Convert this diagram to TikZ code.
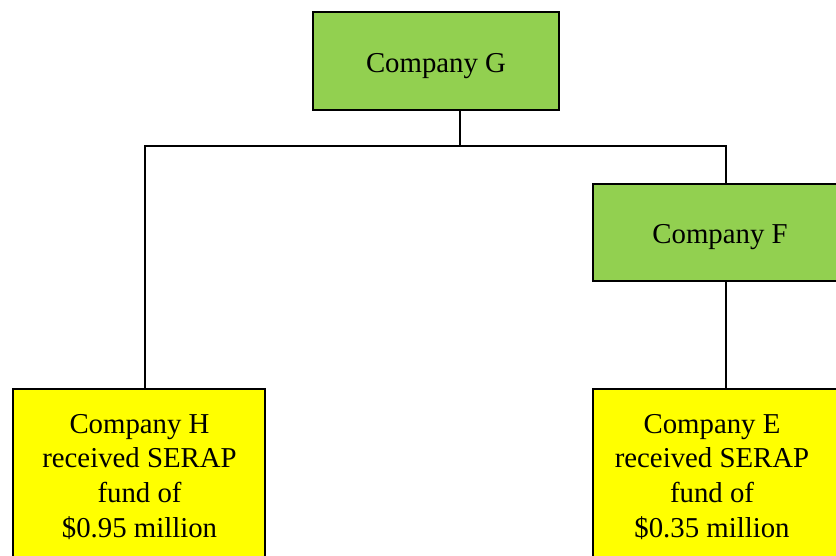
\documentclass[tikz,border=0pt]{standalone}
\usepackage{fontspec}
\setmainfont{Liberation Serif}
\definecolor{boxgreen}{HTML}{92D050}
\definecolor{boxyellow}{HTML}{FFFF00}
\begin{document}
\begin{tikzpicture}[x=1pt,y=-1pt,
  box/.style={draw=black, line width=2pt, inner sep=0pt},
  greenbox/.style={box, fill=boxgreen},
  yellowbox/.style={box, fill=boxyellow},
  txt/.style={inner sep=0pt, align=center, anchor=base, font=\fontsize{28.8}{34.6}\selectfont},
  link/.style={line width=2pt, black}]
\useasboundingbox (0,0) rectangle (836,555);
\clip (0,0) rectangle (836,555);
% boxes
\node[greenbox, minimum width=246pt, minimum height=98pt] (G) at (436,61.3) {};
\node[greenbox, minimum width=267pt, minimum height=97pt] (F) at (726.5,232.5) {};
\node[yellowbox, minimum width=252pt, minimum height=181pt] (H) at (139,479.5) {};
\node[yellowbox, minimum width=267pt, minimum height=181pt] (E) at (726.5,479.5) {};
% texts
\node[txt] (Gt) at (436,72.7) {Company G};
\node[txt] (Ft) at (720,243.3) {Company F};
\node[txt] (Ht) at (139.5,537) {Company H\\received SERAP\\fund of\\\$0.95 million};
\node[txt] (Et) at (712,537) {Company E\\received SERAP\\fund of\\\$0.35 million};
% connectors
\coordinate (j) at (460,146);
\coordinate (hl) at (145,146);
\coordinate (fr) at (726,146);
\draw[link] (j |- G.south) -- (j);
\draw[link] (hl |- H.north) -- (hl) -- (fr) -- (fr |- F.north);
\draw[link] (fr |- F.south) -- (fr |- E.north);
\end{tikzpicture}
\end{document}
